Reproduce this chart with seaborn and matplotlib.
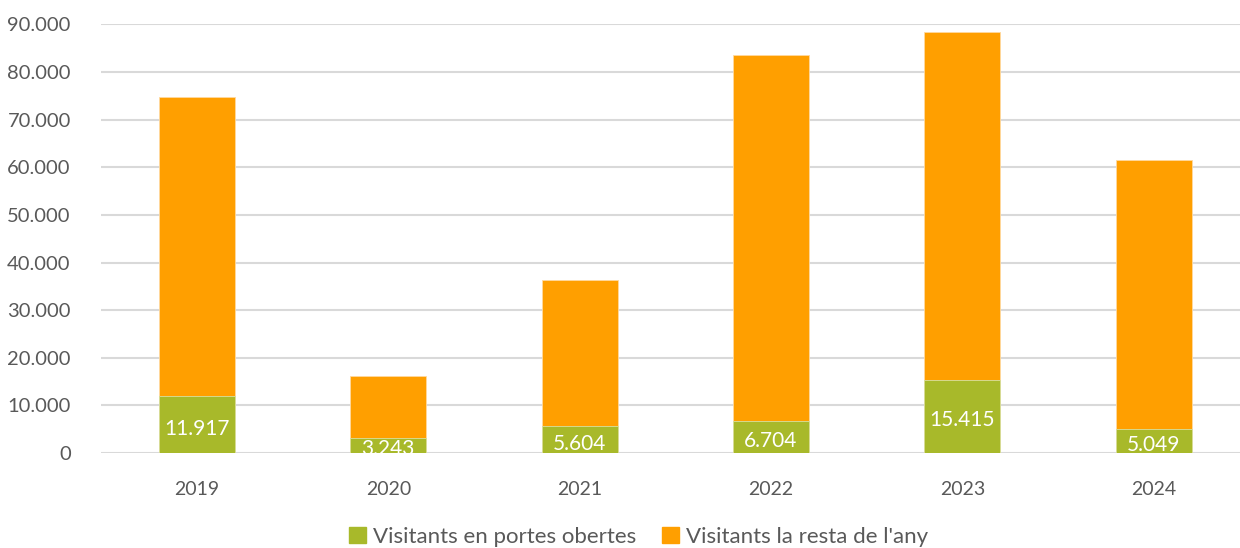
import matplotlib
matplotlib.use("Agg")
import matplotlib.pyplot as plt
import matplotlib.ticker as mticker
from matplotlib.patches import Patch
import seaborn as sns
import pandas as pd

years = ["2019", "2020", "2021", "2022", "2023", "2024"]
portes_obertes = [11917, 3243, 5604, 6704, 15415, 5049]
resta_any = [62800, 12960, 30700, 76900, 73000, 56550]
series_names = ["Visitants en portes obertes", "Visitants la resta de l'any"]
yticks = [0, 10000, 20000, 30000, 40000, 50000, 60000, 70000, 80000, 90000]

green = "#a8b92a"
orange = "#ff9f00"
txt = "#595959"

sns.set_theme(style="white")
plt.rcParams["font.family"] = ["Lato", "DejaVu Sans"]

df = pd.DataFrame({
    "year": years,
    "green": portes_obertes,
    "total": [g + o for g, o in zip(portes_obertes, resta_any)],
})

fig = plt.figure(figsize=(12.4, 5.48), dpi=100)
ax = fig.add_axes([0.0817, 0.1734, 0.9258, 0.7819])

sns.barplot(data=df, x="year", y="total", color=orange, width=0.397,
            ax=ax, saturation=1, edgecolor="#ffd9a0", linewidth=0.6, zorder=3)
sns.barplot(data=df, x="year", y="green", color=green, width=0.397,
            ax=ax, saturation=1, edgecolor="#d8e0a0", linewidth=0.6, zorder=3)

green_bars = ax.containers[1]
labels = [f"{v:,}".replace(",", ".") for v in portes_obertes]
ax.bar_label(green_bars, labels=labels, label_type="center", color="white",
             fontsize=15, padding=-3)

ax.set_ylim(0, 90000)
ax.set_xlim(-0.5, 5.5)
ax.set_yticks(yticks)
ax.yaxis.set_major_formatter(mticker.FuncFormatter(lambda v, p: f"{int(v):,}".replace(",", ".")))
ax.grid(axis="y", color="#d9d9d9", linewidth=1.5, zorder=0)
ax.set_axisbelow(True)
for s in ax.spines.values():
    s.set_visible(False)
ax.set_xlabel("")
ax.set_ylabel("")
ax.tick_params(axis="y", colors=txt, labelsize=14.5, length=0, pad=22)
ax.tick_params(axis="x", colors=txt, labelsize=14, length=0, pad=20)

handles = [Patch(color=green), Patch(color=orange)]
fig.legend(handles, series_names, loc="center", bbox_to_anchor=(0.515, 0.02),
           ncol=2, frameon=False, fontsize=16, labelcolor=txt,
           handlelength=0.75, handleheight=0.75, handletextpad=0.3, columnspacing=1.2)

fig.savefig("out.png", dpi=100)
